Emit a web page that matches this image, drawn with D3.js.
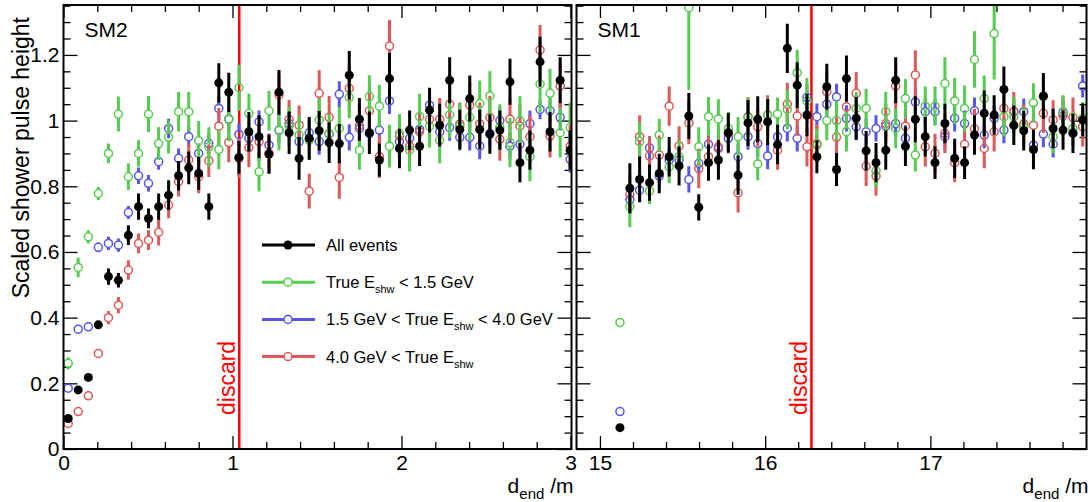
<!DOCTYPE html>
<html>
<head>
<meta charset="utf-8">
<script src="https://cdn.jsdelivr.net/npm/d3@7/dist/d3.min.js"></script>
<style>
  body { margin: 0; background: #fff; }
  text { font-family: "Liberation Sans", Arial, Helvetica, sans-serif; }
</style>
</head>
<body>
<svg id="chart" width="1088" height="502"></svg>
<script>
// ---- SM2 (left panel): bin centres in d_end /m
const sm2X = [0.028, 0.087, 0.147, 0.206, 0.266, 0.325, 0.384, 0.444, 0.503, 0.563,
  0.622, 0.681, 0.741, 0.800, 0.860, 0.919, 0.978, 1.038, 1.097, 1.157,
  1.216, 1.275, 1.335, 1.394, 1.454, 1.513, 1.572, 1.632, 1.691, 1.751,
  1.810, 1.869, 1.929, 1.988, 2.048, 2.107, 2.166, 2.226, 2.285, 2.345,
  2.404, 2.463, 2.523, 2.582, 2.642, 2.701, 2.760, 2.820, 2.879, 2.939, 2.998];
const sm2All = [0.093, 0.18, 0.218, 0.378, 0.525, 0.514, 0.651, 0.738, 0.702, 0.738,
  0.773, 0.832, 0.856, 0.839, 0.738, 1.115, 1.086, 0.888, 0.966, 0.951,
  0.898, 1.086, 0.963, 0.885, 0.946, 0.969, 0.933, 0.93, 1.138, 1.004,
  0.963, 0.88, 1.128, 0.915, 0.971, 0.922, 1.032, 0.986, 1.123, 0.973,
  1.067, 0.973, 0.959, 0.971, 1.118, 0.872, 0.91, 1.179, 0.966, 1.123, 0.91];
const sm2AllErr = [0.008, 0.01, 0.01, 0.012, 0.025, 0.022, 0.03, 0.04, 0.03, 0.04,
  0.045, 0.045, 0.05, 0.05, 0.04, 0.06, 0.06, 0.05, 0.06, 0.065,
  0.06, 0.068, 0.065, 0.065, 0.065, 0.06, 0.062, 0.06, 0.074, 0.065,
  0.065, 0.05, 0.078, 0.06, 0.06, 0.06, 0.068, 0.065, 0.07, 0.06,
  0.07, 0.06, 0.06, 0.06, 0.07, 0.06, 0.06, 0.076, 0.06, 0.07, 0.06];
const sm2Low = [0.261, 0.553, 0.646, 0.778, 0.90, 1.02, 0.829, 0.90, 1.02, 0.93,
  0.95, 1.027, 1.027, 0.939, 0.92, 0.912, 1.003, 1.10, 1.022, 0.844,
  1.03, 0.97, 0.983, 0.956, 0.94, 1.002, 0.96, 0.976, 1.07, 0.91,
  1.073, 1.044, 0.922, 0.96, 0.91, 1.012, 0.983, 0.94, 1.017, 0.983,
  1.01, 1.052, 1.075, 0.98, 0.933, 0.999, 0.89, 1.111, 1.083, 0.963, 0.979];
const sm2LowErr = [0.018, 0.03, 0.02, 0.02, 0.03, 0.053, 0.04, 0.04, 0.055, 0.05,
  0.05, 0.06, 0.06, 0.06, 0.06, 0.06, 0.066, 0.07, 0.06, 0.06,
  0.06, 0.06, 0.06, 0.06, 0.06, 0.065, 0.06, 0.065, 0.063, 0.06,
  0.065, 0.065, 0.065, 0.06, 0.065, 0.07, 0.065, 0.07, 0.07, 0.07,
  0.07, 0.07, 0.075, 0.07, 0.075, 0.075, 0.075, 0.086, 0.075, 0.075, 0.075];
const sm2Mid = [0.185, 0.365, 0.372, 0.614, 0.626, 0.621, 0.72, 0.832, 0.809, 0.875,
  0.976, 0.885, 0.951, 0.90, 0.93, 1.037, 1.005, 0.958, 0.946, 0.996,
  0.925, 0.971, 0.991, 0.936, 0.963, 0.936, 0.959, 1.08, 0.949, 0.976,
  0.96, 0.971, 1.06, 0.936, 0.946, 0.973, 1.047, 0.966, 0.979, 0.949,
  0.949, 0.922, 0.961, 1.0, 0.922, 0.928, 0.991, 1.034, 1.03, 1.01, 0.882];
const sm2MidErr = [0.01, 0.012, 0.012, 0.015, 0.02, 0.02, 0.02, 0.025, 0.025, 0.025,
  0.03, 0.03, 0.03, 0.03, 0.03, 0.035, 0.035, 0.035, 0.035, 0.035,
  0.035, 0.04, 0.035, 0.035, 0.04, 0.04, 0.04, 0.04, 0.04, 0.04,
  0.04, 0.04, 0.04, 0.035, 0.04, 0.04, 0.04, 0.04, 0.04, 0.04,
  0.04, 0.04, 0.04, 0.04, 0.04, 0.04, 0.04, 0.03, 0.035, 0.04, 0.04];
const sm2High = [0.078, 0.114, 0.162, 0.291, 0.40, 0.438, 0.545, 0.626, 0.636, 0.66,
  0.743, 0.814, 0.88, 0.829, 0.878, 0.983, 0.933, 0.885, 0.918, 0.936,
  0.90, 1.078, 1.003, 0.986, 0.785, 1.083, 1.01, 0.827, 1.098, 0.985,
  1.03, 0.89, 1.227, 0.953, 0.922, 0.966, 1.004, 1.004, 1.05, 0.99,
  1.047, 0.99, 1.01, 0.943, 1.004, 0.983, 0.951, 1.215, 0.953, 1.105, 0.922];
const sm2HighErr = [0.008, 0.01, 0.012, 0.012, 0.02, 0.025, 0.03, 0.03, 0.03, 0.04,
  0.04, 0.045, 0.05, 0.05, 0.05, 0.055, 0.06, 0.06, 0.06, 0.06,
  0.06, 0.065, 0.06, 0.06, 0.053, 0.07, 0.065, 0.065, 0.07, 0.065,
  0.065, 0.065, 0.079, 0.065, 0.065, 0.065, 0.065, 0.065, 0.07, 0.065,
  0.07, 0.065, 0.065, 0.065, 0.065, 0.065, 0.065, 0.076, 0.065, 0.07, 0.065];

// ---- SM1 (right panel)
const sm1X = [15.121, 15.181, 15.240, 15.300, 15.359, 15.419, 15.479, 15.538, 15.598, 15.657,
  15.717, 15.777, 15.836, 15.896, 15.955, 16.015, 16.075, 16.134, 16.194, 16.253,
  16.313, 16.373, 16.432, 16.492, 16.551, 16.611, 16.671, 16.730, 16.790, 16.849,
  16.909, 16.969, 17.028, 17.088, 17.147, 17.207, 17.267, 17.326, 17.386, 17.445,
  17.505, 17.565, 17.624, 17.684, 17.743, 17.803, 17.863, 17.922];
const sm1All = [0.065, 0.794, 0.821, 0.811, 0.839, 0.89, 0.862, 1.014, 0.736, 0.872,
  0.88, 0.963, 0.834, 0.993, 1.004, 0.996, 0.927, 1.22, 1.108, 1.017,
  0.89, 1.103, 0.851, 1.128, 1.007, 0.908, 0.872, 0.91, 1.123, 0.922,
  1.004, 0.951, 0.872, 0.991, 0.885, 0.872, 0.956, 1.022, 1.017, 1.095,
  0.986, 0.969, 0.912, 1.075, 0.976, 0.971, 0.961, 1.002];
const sm1AllErr = [0, 0.076, 0.07, 0.055, 0.06, 0.06, 0.06, 0.07, 0.04, 0.055,
  0.06, 0.06, 0.06, 0.07, 0.07, 0.07, 0.06, 0.075, 0.07, 0.065,
  0.05, 0.07, 0.05, 0.07, 0.065, 0.06, 0.06, 0.06, 0.07, 0.06,
  0.07, 0.06, 0.05, 0.06, 0.06, 0.05, 0.06, 0.07, 0.06, 0.07,
  0.06, 0.06, 0.06, 0.07, 0.06, 0.06, 0.06, 0.05];
const sm1Low = [0.385, 0.738, 0.936, 0.786, 0.956, 0.859, 0.89, 1.344, 0.92, 1.012,
  1.005, 0.976, 0.951, 1.01, 0.868, 1.017, 1.02, 1.034, 1.146, 1.06,
  0.925, 1.0, 1.0, 0.966, 1.037, 1.037, 0.847, 1.027, 0.976, 1.067,
  0.895, 1.044, 1.044, 1.113, 1.06, 1.037, 1.186, 1.067, 1.265, 1.012,
  1.012, 0.981, 1.054, 1.073, 0.951, 1.027, 0.976, 1.007];
const sm1LowErr = [0, 0.063, 0.06, 0.04, 0.05, 0.05, 0.05, 0.25, 0.06, 0.06,
  0.06, 0.05, 0.06, 0.06, 0.05, 0.05, 0.05, 0.06, 0.07, 0.07,
  0.05, 0.06, 0.06, 0.06, 0.05, 0.06, 0.05, 0.06, 0.06, 0.06,
  0.05, 0.06, 0.06, 0.08, 0.07, 0.07, 0.086, 0.07, 0.14, 0.06,
  0.06, 0.06, 0.06, 0.06, 0.05, 0.05, 0.05, 0.05];
const sm1Mid = [0.114, 0.76, 0.788, 0.917, 0.831, 0.88, 0.88, 0.821, 0.87, 0.928,
  0.915, 0.946, 0.89, 0.951, 0.93, 0.892, 0.951, 0.976, 0.946, 1.071,
  1.012, 1.05, 1.072, 1.007, 0.981, 0.966, 0.976, 0.983, 0.991, 0.946,
  1.057, 1.027, 1.027, 0.951, 1.007, 0.991, 1.03, 0.956, 1.007, 0.971,
  1.027, 1.027, 0.925, 0.959, 0.928, 1.022, 0.963, 1.105];
const sm1MidErr = [0, 0.035, 0.035, 0.035, 0.035, 0.035, 0.035, 0.04, 0.035, 0.04,
  0.04, 0.04, 0.04, 0.04, 0.04, 0.04, 0.04, 0.04, 0.04, 0.04,
  0.04, 0.04, 0.04, 0.04, 0.04, 0.04, 0.04, 0.04, 0.04, 0.04,
  0.04, 0.04, 0.04, 0.04, 0.04, 0.04, 0.04, 0.04, 0.04, 0.04,
  0.04, 0.04, 0.04, 0.04, 0.04, 0.04, 0.04, 0.035];
const sm1High = [null, 0.775, 0.951, 0.892, 0.895, 1.044, 0.923, 0.993, 0.854, 0.89,
  0.92, 0.96, 0.78, 1.012, 0.981, 1.017, 0.91, 1.05, 1.014, 0.92,
  0.93, 1.088, 0.95, 1.042, 1.083, 0.861, 0.831, 0.991, 1.105, 0.983,
  1.139, 0.92, 0.9, 0.961, 0.872, 0.928, 0.975, 0.915, 0.966, 1.037,
  1.027, 0.99, 0.986, 1.022, 1.002, 1.014, 1.01, 0.981];
const sm1HighErr = [0, 0.06, 0.065, 0.06, 0.06, 0.06, 0.06, 0.065, 0.06, 0.06,
  0.06, 0.06, 0.06, 0.06, 0.06, 0.06, 0.06, 0.065, 0.06, 0.06,
  0.06, 0.065, 0.06, 0.065, 0.065, 0.06, 0.06, 0.06, 0.07, 0.06,
  0.075, 0.06, 0.06, 0.06, 0.06, 0.06, 0.06, 0.06, 0.06, 0.06,
  0.06, 0.06, 0.06, 0.06, 0.06, 0.06, 0.06, 0.06];

const legendLabels = ['All events', 'True E|shw| < 1.5 GeV', '1.5 GeV < True E|shw| < 4.0 GeV', '4.0 GeV < True E|shw|'];
const discardCut = [1.04, 16.28];

const colors = { all: '#000000', low: '#55cc4f', mid: '#5656e8', high: '#dd5858' };

const svg = d3.select('#chart');
const yTop = 5, yBottom = 449;
const y = d3.scaleLinear().domain([0, 1.352]).range([yBottom, yTop]);

const panels = [
  { name: 'SM2', left: 63.5, right: 571.5, domain: [0, 3.006], xs: sm2X, major: [0, 1, 2, 3], yLabels: true,
    series: [
      { key: 'mid', v: sm2Mid, e: sm2MidErr },
      { key: 'high', v: sm2High, e: sm2HighErr },
      { key: 'low', v: sm2Low, e: sm2LowErr },
      { key: 'all', v: sm2All, e: sm2AllErr }
    ], cut: discardCut[0], legend: true },
  { name: 'SM1', left: 576.5, right: 1086.5, domain: [14.858, 17.945], xs: sm1X, major: [15, 16, 17], yLabels: false,
    series: [
      { key: 'mid', v: sm1Mid, e: sm1MidErr },
      { key: 'high', v: sm1High, e: sm1HighErr },
      { key: 'low', v: sm1Low, e: sm1LowErr },
      { key: 'all', v: sm1All, e: sm1AllErr }
    ], cut: discardCut[1], legend: false }
];

const r = 4;

panels.forEach((p, pi) => {
  const x = d3.scaleLinear().domain(p.domain).range([p.left, p.right]);
  const g = svg.append('g');

  // clip the points to the frame
  const clipId = 'clip' + pi;
  svg.append('clipPath').attr('id', clipId).append('rect')
    .attr('x', p.left).attr('y', yTop).attr('width', p.right - p.left).attr('height', yBottom - yTop);

  // Ticks: major with labels, minor without
  const yMajor = d3.range(0, 1.35, 0.2);
  const yMinor = d3.range(0, 1.351, 0.05).filter((v) => Math.abs(v / 0.2 - Math.round(v / 0.2)) > 1e-6);
  const xMinor = d3.range(Math.ceil(p.domain[0] / 0.2) * 0.2, p.domain[1], 0.2)
    .filter((v) => Math.abs(v - Math.round(v)) > 1e-6);

  const axes = g.append('g').attr('class', 'axes');
  const styleAxis = (sel) => {
    sel.select('.domain').remove();
    sel.selectAll('line').attr('stroke', '#000').attr('stroke-width', 1.3);
    sel.selectAll('text').attr('font-size', 21).attr('fill', '#000')
      .style('font-family', '"Liberation Sans", Arial, sans-serif');
  };

  // bottom axis
  axes.append('g').attr('transform', `translate(0,${yBottom})`)
    .call(d3.axisBottom(x).tickValues(p.major).tickSizeInner(-13).tickSizeOuter(0).tickPadding(6).tickFormat(d3.format('d')))
    .call(styleAxis);
  axes.append('g').attr('transform', `translate(0,${yBottom})`)
    .call(d3.axisBottom(x).tickValues(xMinor).tickSize(-7).tickFormat(''))
    .call(styleAxis);
  // top axis
  axes.append('g').attr('transform', `translate(0,${yTop})`)
    .call(d3.axisTop(x).tickValues(p.major).tickSize(-13).tickFormat(''))
    .call(styleAxis);
  axes.append('g').attr('transform', `translate(0,${yTop})`)
    .call(d3.axisTop(x).tickValues(xMinor).tickSize(-7).tickFormat(''))
    .call(styleAxis);
  // left axis
  axes.append('g').attr('transform', `translate(${p.left},0)`)
    .call(d3.axisLeft(y).tickValues(yMajor).tickSize(-14).tickPadding(4)
      .tickFormat(p.yLabels ? (d) => String(+d.toFixed(1)) : ''))
    .call(styleAxis);
  axes.append('g').attr('transform', `translate(${p.left},0)`)
    .call(d3.axisLeft(y).tickValues(yMinor).tickSize(-7).tickFormat(''))
    .call(styleAxis);
  // right axis
  axes.append('g').attr('transform', `translate(${p.right},0)`)
    .call(d3.axisRight(y).tickValues(yMajor).tickSize(-14).tickFormat(''))
    .call(styleAxis);
  axes.append('g').attr('transform', `translate(${p.right},0)`)
    .call(d3.axisRight(y).tickValues(yMinor).tickSize(-7).tickFormat(''))
    .call(styleAxis);

  // discard line
  g.append('line')
    .attr('x1', x(p.cut)).attr('x2', x(p.cut))
    .attr('y1', yTop).attr('y2', yBottom)
    .attr('stroke', '#ff0000').attr('stroke-width', 2.5);
  g.append('text')
    .attr('transform', `translate(${x(p.cut) - 4},415) rotate(-90)`)
    .attr('font-size', 23).attr('fill', '#ff0000')
    .text('discard');

  // data
  const data = g.append('g').attr('clip-path', `url(#${clipId})`);
  p.series.forEach((s) => {
    const col = colors[s.key];
    const pts = p.xs.map((xv, i) => ({ x: xv, v: s.v[i], e: s.e[i] })).filter((d) => d.v !== null);
    const sg = data.append('g');
    if (s.key === 'all') {
      sg.selectAll('line.err').data(pts.filter((d) => d.e > 0)).enter().append('line')
        .attr('x1', (d) => x(d.x)).attr('x2', (d) => x(d.x))
        .attr('y1', (d) => y(d.v + d.e)).attr('y2', (d) => y(d.v - d.e))
        .attr('stroke', col).attr('stroke-width', 3);
      sg.selectAll('circle').data(pts).enter().append('circle')
        .attr('cx', (d) => x(d.x)).attr('cy', (d) => y(d.v)).attr('r', 4.5)
        .attr('fill', col);
    } else {
      // ROOT leaves a gap for the open marker
      const withBars = pts.filter((d) => d.e * 328.5 > r);
      sg.selectAll('line.up').data(withBars).enter().append('line')
        .attr('x1', (d) => x(d.x)).attr('x2', (d) => x(d.x))
        .attr('y1', (d) => y(d.v + d.e)).attr('y2', (d) => y(d.v) - r)
        .attr('stroke', col).attr('stroke-width', 3);
      sg.selectAll('line.dn').data(withBars).enter().append('line')
        .attr('x1', (d) => x(d.x)).attr('x2', (d) => x(d.x))
        .attr('y1', (d) => y(d.v) + r).attr('y2', (d) => y(d.v - d.e))
        .attr('stroke', col).attr('stroke-width', 3);
      sg.selectAll('circle').data(pts).enter().append('circle')
        .attr('cx', (d) => x(d.x)).attr('cy', (d) => y(d.v)).attr('r', r)
        .attr('fill', 'none').attr('stroke', col).attr('stroke-width', 1.5);
    }
  });

  // frame
  g.append('rect')
    .attr('x', p.left).attr('y', yTop)
    .attr('width', p.right - p.left).attr('height', yBottom - yTop)
    .attr('fill', 'none').attr('stroke', '#000').attr('stroke-width', 2);

  // module name
  g.append('text').attr('x', p.left + 21).attr('y', 37)
    .attr('font-size', 21).text(p.name);

  // x title
  const xt = g.append('text').attr('x', p.right + 2).attr('y', 493)
    .attr('text-anchor', 'end').attr('font-size', 21);
  xt.append('tspan').text('d');
  xt.append('tspan').attr('font-size', 15).attr('dy', 6).text('end');
  xt.append('tspan').attr('dy', -6).text(' /m');

  if (p.legend) {
    const keys = ['all', 'low', 'mid', 'high'];
    const lg = g.append('g');
    keys.forEach((k, i) => {
      const ly = 245 + i * 37.2;
      lg.append('line').attr('x1', 262).attr('x2', 315).attr('y1', ly).attr('y2', ly)
        .attr('stroke', colors[k]).attr('stroke-width', 3);
      if (k === 'all') {
        lg.append('circle').attr('cx', 288).attr('cy', ly).attr('r', 4.5).attr('fill', '#000');
      } else {
        lg.append('circle').attr('cx', 288).attr('cy', ly).attr('r', r)
          .attr('fill', '#fff').attr('stroke', colors[k]).attr('stroke-width', 1.5);
      }
      const t = lg.append('text').attr('x', 326).attr('y', ly + 6).attr('font-size', 16.5);
      legendLabels[i].split('|').forEach((part, j) => {
        const sp = t.append('tspan').text(part);
        if (j === 1) sp.attr('font-size', 11).attr('dy', 5);
        if (j === 2) sp.attr('dy', -5);
      });
    });
  }
});

// y-axis title
svg.append('text')
  .attr('transform', 'translate(29,17) rotate(-90)')
  .attr('text-anchor', 'end')
  .attr('font-size', 23)
  .text('Scaled shower pulse height');
</script>
</body>
</html>
